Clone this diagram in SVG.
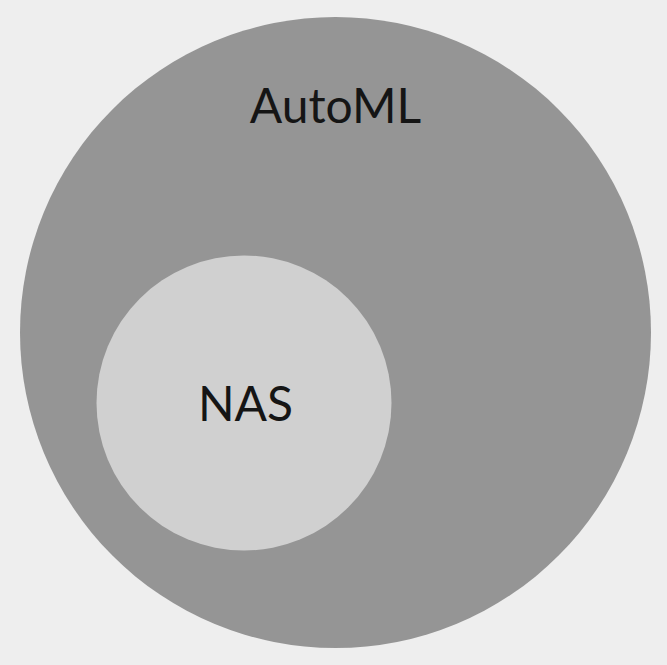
<svg xmlns="http://www.w3.org/2000/svg" width="667" height="665" viewBox="0 0 667 665">
<style>
.lbl{font-family:Lato,"Open Sans","Liberation Sans",sans-serif;font-size:48px;fill:#151515;}
</style>
<rect x="0" y="0" width="667" height="665" fill="#eeeeee"/>
<g id="automl">
<circle cx="335.5" cy="332.5" r="315.5" fill="#959595"/>
<text class="lbl" x="335.5" y="123" text-anchor="middle">AutoML</text>
</g>
<g id="nas">
<circle cx="244" cy="403" r="147.5" fill="#d0d0d0"/>
<text class="lbl" x="245.5" y="421" text-anchor="middle">NAS</text>
</g>
<g id="connectors"/>
</svg>
